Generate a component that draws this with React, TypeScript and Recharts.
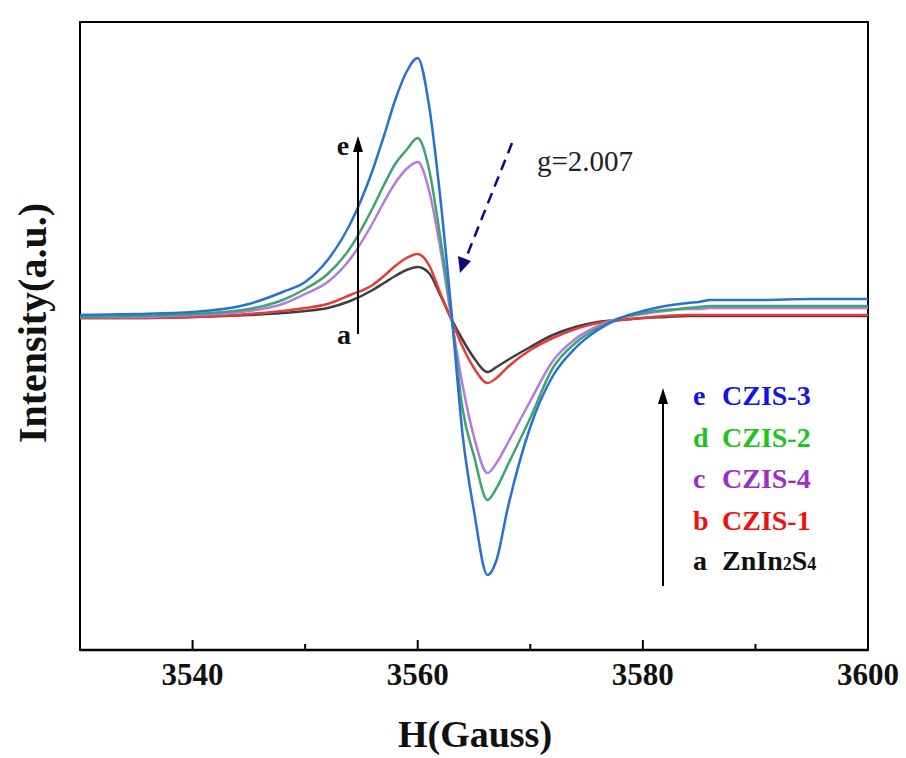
import React from "react";
import { LineChart, Line, XAxis, YAxis, ReferenceArea, ReferenceLine } from "recharts";

// magnetic field (Gauss)
const fieldH = [3530, 3535, 3540, 3545, 3548, 3550, 3552, 3554, 3556, 3557, 3558, 3559, 3560, 3561, 3562, 3563, 3564, 3565, 3566.2, 3567, 3568, 3570, 3572, 3574, 3576, 3578, 3580, 3582, 3584, 3585, 3586, 3590, 3595, 3600];

// EPR intensity (a.u.)
const czis3 = [1, 2, 4, 12, 24, 34, 56, 92, 146, 180, 216, 244, 258, 211, 119, 4, -120, -195, -259, -244, -192, -111, -60, -32, -14, -2, 5, 10, 13, 14, 16, 16, 17, 17];
const czis2 = [-1, 0, 2, 7, 16, 27, 42, 68, 108, 131, 152, 166, 178, 147, 79, 0, -94, -140, -184, -172, -149, -102, -52, -27, -12, -2, 3, 6, 8, 9, 10, 10, 10, 10];
const czis4 = [-1, -1, 1, 5, 12, 22, 34, 57, 93, 114, 133, 147, 154, 126, 68, -3, -70, -121, -157, -147, -127, -85, -45, -23, -10, -2, 2, 5, 7, 7, 8, 8, 8, 8];
const czis1 = [-2, -2, -1, 2, 5, 8, 12, 21, 31, 40, 50, 58, 62, 51, 23, -4, -31, -52, -67, -62, -51, -34, -22, -13, -7, -4, -2, 0, 1, 1, 1, 1, 1, 1];
const znIn2S4 = [-2, -2, -1, 1, 3, 5, 8, 15, 26, 33, 40, 46, 49, 43, 21, -3, -24, -42, -56, -51, -44, -31, -19, -11, -6, -4, -2, -1, 0, 0, 0, 0, 0, 0];

const xTicks = [3540, 3550, 3560, 3570, 3580, 3590, 3600];
const yMin = -334;
const yMax = 294;

const data = fieldH.map((h, i) => ({
  h,
  a: znIn2S4[i],
  b: czis1[i],
  c: czis4[i],
  d: czis2[i],
  e: czis3[i],
}));

const SERIF = "'Liberation Serif', 'Times New Roman', serif";

const FieldTick = (props: any) => {
  const { x, y, payload } = props;
  if (payload.value % 20 !== 0) return <g />;
  return (
    <text x={x} y={y + 35} textAnchor="middle" fontFamily={SERIF} fontWeight="bold" fontSize={31} fill="#111">
      {payload.value}
    </text>
  );
};

const legendRows = [
  { key: "e", name: "CZIS-3", color: "#1414e6", y: 405 },
  { key: "d", name: "CZIS-2", color: "#1ec41e", y: 447 },
  { key: "c", name: "CZIS-4", color: "#9a2ec8", y: 488 },
  { key: "b", name: "CZIS-1", color: "#f01010", y: 530 },
];

export default function App() {
  return (
    <div style={{ position: "absolute", left: 0, top: 0, width: 906, height: 758, background: "#fff" }}>
      <LineChart width={906} height={758} data={data} margin={{ top: 22, right: 38, bottom: 68, left: 80 }}>
        <XAxis
          dataKey="h"
          type="number"
          domain={[3530, 3600]}
          ticks={xTicks}
          allowDataOverflow
          height={40}
          tickSize={0}
          tickMargin={0}
          tickLine={false}
          axisLine={{ stroke: "#000", strokeWidth: 2.5 }}
          tick={<FieldTick />}
        />
        <YAxis type="number" domain={[yMin, yMax]} hide allowDataOverflow />
        <ReferenceArea x1={3530} x2={3600} y1={yMin} y2={yMax} fill="none" stroke="#000" strokeWidth={2} />
        {/* inward tick marks */}
        {xTicks.map((t) => (
          <ReferenceLine
            key={t}
            segment={[{ x: t, y: yMin }, { x: t, y: yMin + (t % 20 === 0 ? 10 : 6) }]}
            stroke="#000"
            strokeWidth={2}
          />
        ))}
        <Line dataKey="a" stroke="#3e3e3e" strokeWidth={2.5} dot={false} type="monotone" isAnimationActive={false} />
        <Line dataKey="b" stroke="#e63b3b" strokeWidth={2.5} dot={false} type="monotone" isAnimationActive={false} />
        <Line dataKey="c" stroke="#b57bdc" strokeWidth={2.5} dot={false} type="monotone" isAnimationActive={false} />
        <Line dataKey="d" stroke="#3aa56c" strokeWidth={2.5} dot={false} type="monotone" isAnimationActive={false} />
        <Line dataKey="e" stroke="#2a6fd8" strokeWidth={2.5} dot={false} type="monotone" isAnimationActive={false} />
      </LineChart>

      <svg width={906} height={758} style={{ position: "absolute", left: 0, top: 0, pointerEvents: "none" }}>
        {/* axis titles */}
        <text x={475} y={747} textAnchor="middle" fontFamily={SERIF} fontWeight="bold" fontSize={38} fill="#111">
          H(Gauss)
        </text>
        <text
          transform="translate(46, 323) rotate(-90)"
          textAnchor="middle"
          fontFamily={SERIF}
          fontWeight="bold"
          fontSize={40}
          fill="#111"
        >
          Intensity(a.u.)
        </text>

        {/* a -> e arrow */}
        <line x1={358} y1={334} x2={358} y2={150} stroke="#000" strokeWidth={2} />
        <polygon points="358,136 353,152 363,152" fill="#000" />
        <text x={343} y={155} textAnchor="middle" fontFamily={SERIF} fontWeight="bold" fontSize={28} fill="#111">e</text>
        <text x={344} y={344} textAnchor="middle" fontFamily={SERIF} fontWeight="bold" fontSize={28} fill="#111">a</text>

        {/* g-value marker */}
        <line x1={512} y1={143} x2={466} y2={258} stroke="#0b0b7a" strokeWidth={2.5} strokeDasharray="11 7" />
        <polygon points="460,273 458,256 471,261" fill="#0b0b7a" />
        <text x={537} y={171} fontFamily={SERIF} fontSize={29} fill="#222">g=2.007</text>

        {/* legend */}
        <line x1={663} y1={586} x2={663} y2={402} stroke="#000" strokeWidth={2} />
        <polygon points="663,388 658,404 668,404" fill="#000" />
        {legendRows.map((r) => (
          <g key={r.key} fontFamily={SERIF} fontWeight="bold" fontSize={28} fill={r.color}>
            <text x={693} y={r.y}>{r.key}</text>
            <text x={722} y={r.y}>{r.name}</text>
          </g>
        ))}
        <g fontFamily={SERIF} fontWeight="bold" fontSize={28} fill="#111">
          <text x={693} y={570}>a</text>
          <text x={722} y={570}>
            ZnIn<tspan fontSize={18}>2</tspan>S<tspan fontSize={18}>4</tspan>
          </text>
        </g>
      </svg>
    </div>
  );
}
